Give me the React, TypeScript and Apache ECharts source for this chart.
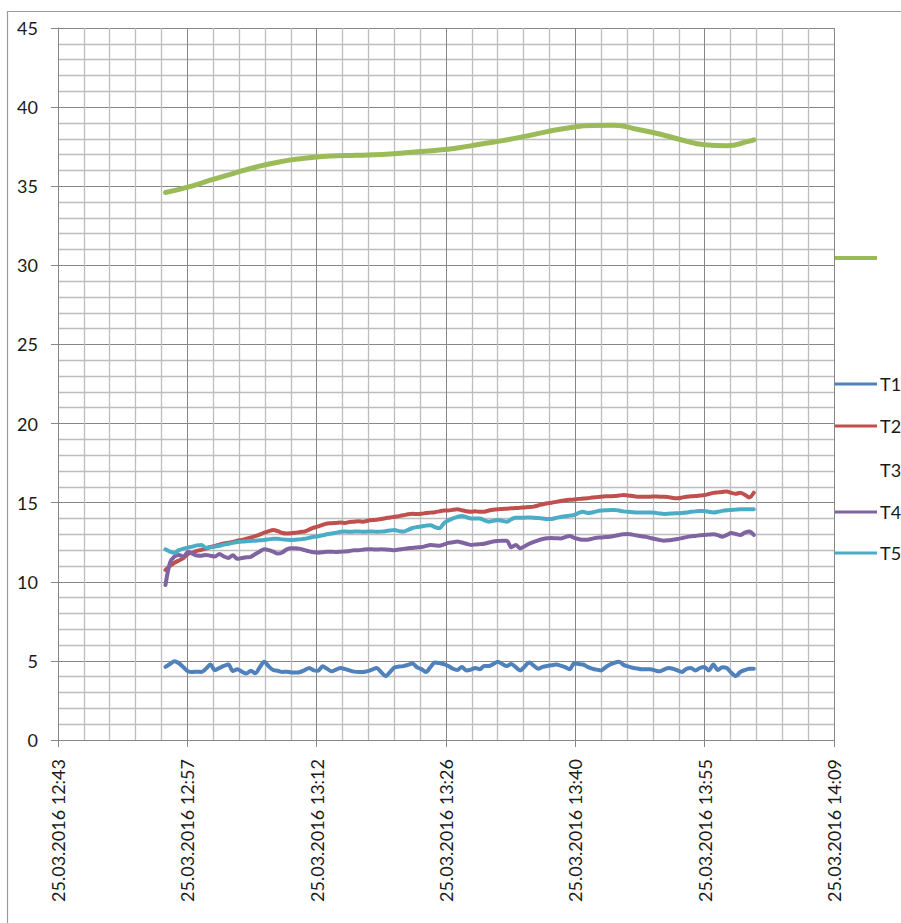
import { useEffect, useRef } from "react";
import * as echarts from "echarts";

// Measurements logged every 30 seconds from 25.03.2016 12:55:10 (UTC based timestamps)
const sampleStart = Date.UTC(2016, 2, 25, 12, 55, 10);
const sampleStepMs = 30000;

const t1Values = [
  4.62, 4.8, 4.98, 4.85, 4.6, 4.35, 4.3, 4.32, 4.3, 4.5,
  4.77, 4.42, 4.55, 4.68, 4.77, 4.36, 4.47, 4.32, 4.2, 4.38,
  4.22, 4.6, 4.94, 4.65, 4.42, 4.38, 4.3, 4.32, 4.27, 4.26,
  4.3, 4.42, 4.55, 4.4, 4.38, 4.66, 4.5, 4.34, 4.45, 4.55,
  4.48, 4.4, 4.32, 4.3, 4.3, 4.35, 4.45, 4.55, 4.3, 4.04,
  4.3, 4.58, 4.64, 4.67, 4.75, 4.83, 4.6, 4.48, 4.3, 4.6,
  4.9, 4.86, 4.8, 4.68, 4.5, 4.42, 4.62, 4.4, 4.45, 4.55,
  4.47, 4.68, 4.68, 4.8, 4.94, 4.8, 4.68, 4.8, 4.6, 4.4,
  4.65, 4.9, 4.7, 4.51, 4.62, 4.68, 4.72, 4.77, 4.7, 4.6,
  4.47, 4.83, 4.8, 4.77, 4.62, 4.51, 4.45, 4.4, 4.6, 4.77,
  4.88, 4.94, 4.75, 4.65, 4.57, 4.52, 4.47, 4.47, 4.47, 4.4,
  4.34, 4.45, 4.55, 4.5, 4.4, 4.3, 4.5, 4.55, 4.4, 4.55,
  4.62, 4.4, 4.77, 4.42, 4.6, 4.55, 4.25, 4.04, 4.3, 4.42,
  4.5, 4.51,
];

const t2Values = [
  10.75, 11.0, 11.2, 11.35, 11.5, 11.76, 11.85, 11.95, 12.02, 12.1,
  12.2, 12.26, 12.35, 12.42, 12.47, 12.52, 12.6, 12.64, 12.72, 12.8,
  12.88, 12.98, 13.1, 13.2, 13.27, 13.2, 13.08, 13.05, 13.06, 13.1,
  13.15, 13.18, 13.3, 13.42, 13.5, 13.6, 13.68, 13.7, 13.72, 13.74,
  13.72, 13.78, 13.8, 13.82, 13.8, 13.86, 13.9, 13.92, 13.97, 14.02,
  14.06, 14.11, 14.15, 14.2, 14.27, 14.3, 14.28, 14.3, 14.34, 14.37,
  14.4, 14.45, 14.5, 14.5, 14.55, 14.58, 14.52, 14.46, 14.43, 14.45,
  14.42, 14.43, 14.5, 14.55, 14.58, 14.6, 14.62, 14.64, 14.66, 14.68,
  14.7, 14.72, 14.75, 14.82, 14.9, 14.96, 15.0, 15.05, 15.1, 15.15,
  15.18, 15.2, 15.24, 15.26, 15.28, 15.32, 15.35, 15.38, 15.4, 15.41,
  15.42, 15.45, 15.48, 15.46, 15.42, 15.38, 15.38, 15.37, 15.38, 15.39,
  15.38, 15.38, 15.35, 15.3, 15.28, 15.32, 15.38, 15.4, 15.42, 15.45,
  15.48, 15.55, 15.62, 15.65, 15.68, 15.7, 15.62, 15.56, 15.63, 15.5,
  15.33, 15.63,
];

const t4Values = [
  9.8, 11.2, 11.6, 11.7, 11.6, 11.88, 11.78, 11.66, 11.65, 11.7,
  11.65, 11.6, 11.75, 11.6, 11.5, 11.68, 11.45, 11.5, 11.55, 11.58,
  11.75, 11.92, 12.05, 12.0, 11.9, 11.78, 11.85, 12.05, 12.12, 12.12,
  12.08, 12.0, 11.92, 11.86, 11.84, 11.86, 11.9, 11.9, 11.88, 11.9,
  11.92, 11.95, 12.0, 12.0, 12.03, 12.05, 12.05, 12.04, 12.05, 12.04,
  12.02, 12.0, 12.04, 12.08, 12.12, 12.14, 12.17, 12.2, 12.26, 12.32,
  12.3, 12.28, 12.36, 12.46, 12.5, 12.54, 12.48, 12.4, 12.33, 12.36,
  12.38, 12.4, 12.48, 12.55, 12.58, 12.6, 12.6, 12.18, 12.33, 12.12,
  12.25, 12.4, 12.52, 12.62, 12.7, 12.75, 12.76, 12.75, 12.74, 12.82,
  12.9, 12.78, 12.7, 12.65, 12.66, 12.72, 12.78, 12.8, 12.83, 12.85,
  12.9, 12.96, 13.0, 13.02, 12.98, 12.92, 12.88, 12.84, 12.77, 12.7,
  12.64, 12.6, 12.62, 12.66, 12.7, 12.76, 12.82, 12.87, 12.9, 12.94,
  12.96, 12.98, 13.0, 12.95, 12.85, 12.96, 13.08, 13.02, 12.96, 13.1,
  13.17, 12.96,
];

const t5Values = [
  12.05, 11.9, 11.82, 12.0, 12.1, 12.16, 12.22, 12.3, 12.33, 12.15,
  12.18, 12.22, 12.28, 12.35, 12.4, 12.46, 12.52, 12.54, 12.56, 12.58,
  12.6, 12.62, 12.64, 12.68, 12.72, 12.72, 12.68, 12.65, 12.64, 12.66,
  12.68, 12.72, 12.78, 12.84, 12.88, 12.94, 13.0, 13.05, 13.1, 13.16,
  13.17, 13.16, 13.17, 13.18, 13.16, 13.17, 13.18, 13.16, 13.17, 13.2,
  13.24, 13.27, 13.2, 13.17, 13.28, 13.4, 13.46, 13.5, 13.55, 13.58,
  13.45, 13.38, 13.7, 13.88, 14.0, 14.1, 14.16, 14.08, 14.0, 14.0,
  14.0, 13.88, 13.8, 13.85, 13.9, 13.85, 13.8, 13.95, 14.05, 14.05,
  14.05, 14.06, 14.05, 14.03, 14.0, 13.96, 13.97, 14.04, 14.1, 14.14,
  14.18, 14.22, 14.35, 14.43, 14.35, 14.38, 14.45, 14.5, 14.52, 14.53,
  14.54, 14.5, 14.45, 14.42, 14.4, 14.38, 14.38, 14.38, 14.38, 14.36,
  14.32, 14.29, 14.3, 14.32, 14.33, 14.35, 14.38, 14.42, 14.45, 14.47,
  14.47, 14.42, 14.38, 14.42, 14.48, 14.52, 14.54, 14.56, 14.58, 14.58,
  14.58, 14.58,
];

// Smooth T3 curve, given at coarser points
const t3Times = [
  "12:55:10", "12:57:40", "13:00:10", "13:02:40", "13:05:10", "13:07:40",
  "13:10:10", "13:12:40", "13:15:10", "13:17:40", "13:20:10", "13:22:40",
  "13:25:10", "13:27:40", "13:30:10", "13:32:40", "13:35:10", "13:37:40",
  "13:40:10", "13:42:40", "13:45:10", "13:47:40", "13:50:10", "13:52:40",
  "13:55:10", "13:57:40", "14:00:10", "14:00:40",
];
const t3Values = [
  34.6, 34.94, 35.38, 35.8, 36.2, 36.52,
  36.74, 36.88, 36.94, 36.98, 37.04, 37.15,
  37.26, 37.42, 37.65, 37.88, 38.15, 38.45,
  38.7, 38.84, 38.85, 38.6, 38.3, 37.92,
  37.62, 37.56, 37.85, 37.93,
];

// X axis: 0.01 day steps starting at 12:43:12
const axisStart = Date.UTC(2016, 2, 25, 12, 43, 12);
const axisInterval = 864000;
const axisSteps = 6;

const yMin = 0;
const yMax = 45;
const yInterval = 5;

const legendNames = ["T1", "T2", "T3", "T4", "T5"];

const colors = {
  t1: "#4F81BD",
  t2: "#C0504D",
  t3: "#9BBB59",
  t4: "#8064A2",
  t5: "#4BACC6",
};

const FONT = "Lato, 'Open Sans', sans-serif";
const TEXT = "#1a1a1a";
const MAJOR = "#868686";
const MINOR = "#bdbdbd";

const pad = (n: number) => String(n).padStart(2, "0");
const formatStamp = (v: number) => {
  const d = new Date(v);
  return `${pad(d.getUTCDate())}.${pad(d.getUTCMonth() + 1)}.${d.getUTCFullYear()} ${pad(
    d.getUTCHours()
  )}:${pad(d.getUTCMinutes())}`;
};
const clockToMs = (hms: string) => {
  const [h, m, s] = hms.split(":").map(Number);
  return Date.UTC(2016, 2, 25, h, m, s);
};
const withTimes = (values: number[]) =>
  values.map((v, i) => [sampleStart + i * sampleStepMs, v]);

export default function App() {
  const ref = useRef<HTMLDivElement>(null);

  useEffect(() => {
    if (!ref.current) return;
    const chart = echarts.init(ref.current, undefined, { renderer: "svg" });

    const lineSeries = (name: string, color: string, data: number[][], smooth: number | boolean, width = 4) => ({
      name,
      type: "line",
      data,
      showSymbol: false,
      symbol: "none",
      smooth,
      color,
      lineStyle: { color, width, cap: "round", join: "round" },
      emphasis: { disabled: true },
    });

    // Legend drawn by hand: the T3 entry carries no line swatch, the curve swatch sits above
    const legendX = 835;
    const legendRows = [384, 426, 470, 512, 553];
    const legendColors = [colors.t1, colors.t2, null, colors.t4, colors.t5];
    const legendGraphics: any[] = [
      {
        type: "line",
        shape: { x1: legendX, y1: 258, x2: legendX + 42, y2: 258 },
        style: { stroke: colors.t3, lineWidth: 4 },
      },
    ];
    legendNames.forEach((name, i) => {
      const c = legendColors[i];
      if (c) {
        legendGraphics.push({
          type: "line",
          shape: { x1: legendX, y1: legendRows[i], x2: legendX + 42, y2: legendRows[i] },
          style: { stroke: c, lineWidth: 3 },
        });
      }
      legendGraphics.push({
        type: "text",
        x: legendX + 45,
        y: legendRows[i],
        style: {
          text: name,
          fill: TEXT,
          fontSize: 18,
          fontFamily: FONT,
          verticalAlign: "middle",
          align: "left",
        },
      });
    });

    chart.setOption({
      animation: false,
      backgroundColor: "#ffffff",
      grid: { left: 58, top: 28, right: 67, bottom: 183, containLabel: false },
      xAxis: {
        type: "value",
        min: axisStart,
        max: axisStart + axisSteps * axisInterval,
        interval: axisInterval,
        axisLine: { show: true, onZero: false, lineStyle: { color: MAJOR, width: 1 } },
        axisTick: { show: true, inside: false, length: 7, lineStyle: { color: MAJOR } },
        axisLabel: {
          rotate: 90,
          margin: 19,
          color: TEXT,
          fontSize: 18,
          fontFamily: FONT,
          formatter: (v: number) => formatStamp(v),
          showMinLabel: true,
          showMaxLabel: true,
        },
        splitLine: { show: true, lineStyle: { color: MAJOR, width: 1 } },
        minorTick: { show: false, splitNumber: 5 },
        minorSplitLine: { show: true, lineStyle: { color: MINOR, width: 1.3 } },
      },
      yAxis: {
        type: "value",
        min: yMin,
        max: yMax,
        interval: yInterval,
        axisLine: { show: true, lineStyle: { color: MAJOR, width: 1 } },
        axisTick: { show: true, inside: false, length: 7, lineStyle: { color: MAJOR } },
        axisLabel: { margin: 20, color: TEXT, fontSize: 18, fontFamily: FONT },
        splitLine: { show: true, lineStyle: { color: MAJOR, width: 1 } },
        minorTick: { show: false, splitNumber: 5 },
        minorSplitLine: { show: true, lineStyle: { color: MINOR, width: 1.3 } },
      },
      graphic: [
        {
          type: "rect",
          shape: { x: 7.5, y: 11.5, width: 900, height: 920 },
          style: { fill: "none", stroke: "#9a9a9a", lineWidth: 1.2 },
          silent: true,
        },
        ...legendGraphics,
      ],
      series: [
        lineSeries("T1", colors.t1, withTimes(t1Values), 0.3),
        lineSeries("T2", colors.t2, withTimes(t2Values), 0.3),
        lineSeries(
          "T3",
          colors.t3,
          t3Times.map((t, i) => [clockToMs(t), t3Values[i]]),
          0.5,
          5
        ),
        lineSeries("T4", colors.t4, withTimes(t4Values), 0.3),
        lineSeries("T5", colors.t5, withTimes(t5Values), 0.3),
      ],
    });

    return () => chart.dispose();
  }, []);

  return (
    <div
      ref={ref}
      style={{ position: "fixed", left: 0, top: 0, width: 901, height: 923, background: "#fff" }}
    />
  );
}
